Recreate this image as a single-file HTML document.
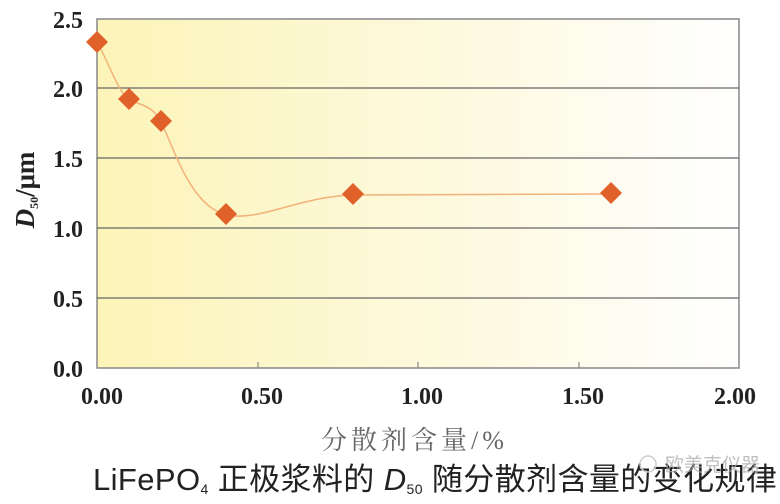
<!DOCTYPE html>
<html><head><meta charset="utf-8"><style>
html,body{margin:0;padding:0;background:#fff;width:780px;height:504px;overflow:hidden}
</style></head><body>
<svg width="780" height="504" viewBox="0 0 780 504" xmlns="http://www.w3.org/2000/svg">
<defs><linearGradient id="g" x1="0" x2="1" y1="0" y2="0">
<stop offset="0" stop-color="#fcf4b8"/><stop offset="0.55" stop-color="#fdf9de"/><stop offset="1" stop-color="#ffffff"/></linearGradient></defs>
<rect x="97" y="19" width="642" height="349" fill="url(#g)" stroke="#888" stroke-width="1.5"/>
<g stroke="#666" stroke-width="1.3">
<line x1="97" x2="739" y1="88" y2="88"/><line x1="97" x2="739" y1="158" y2="158"/>
<line x1="97" x2="739" y1="228" y2="228"/><line x1="97" x2="739" y1="298" y2="298"/>
</g>
<g stroke="#888" stroke-width="1.2">
<line x1="258" x2="258" y1="362" y2="368"/><line x1="418" x2="418" y1="362" y2="368"/><line x1="579" x2="579" y1="362" y2="368"/>
</g>
<path d="M97,42 C110,65 118,92 129,99 C140,106 152,104 161,122 C175,150 190,205 226,215 C260,222 300,196 354,195 L611,194" fill="none" stroke="#f2b27a" stroke-width="1.5"/>
<g fill="#e0622a">
<path d="M97,31 l11,11 l-11,11 l-11,-11z"/>
<path d="M129,88 l11,11 l-11,11 l-11,-11z"/>
<path d="M161,110 l11,11 l-11,11 l-11,-11z"/>
<path d="M226,203 l11,11 l-11,11 l-11,-11z"/>
<path d="M353,183 l11,11 l-11,11 l-11,-11z"/>
<path d="M611,182 l11,11 l-11,11 l-11,-11z"/>
</g>
<g font-family="Liberation Serif,serif" font-weight="bold" font-size="24" fill="#222" text-anchor="end">
<text x="83" y="28">2.5</text><text x="83" y="97">2.0</text><text x="83" y="167">1.5</text>
<text x="83" y="237">1.0</text><text x="83" y="307">0.5</text><text x="83" y="377">0.0</text>
</g>
<g font-family="Liberation Serif,serif" font-weight="bold" font-size="24" fill="#222" text-anchor="middle">
<text x="102" y="404">0.00</text><text x="262" y="404">0.50</text><text x="422" y="404">1.00</text>
<text x="583" y="404">1.50</text><text x="735" y="404">2.00</text>
</g>
<text transform="translate(34,190) rotate(-90)" text-anchor="middle" font-family="Liberation Serif,serif" font-weight="bold" font-size="27" fill="#222"><tspan font-style="italic">D</tspan><tspan font-size="12" dy="4">50</tspan><tspan dy="-4">/μm</tspan></text>
<text x="321" y="449" font-family="Liberation Serif,'Noto Serif CJK SC',serif" font-size="26" fill="#666" letter-spacing="4">分散剂含量/%</text>
<text x="93" y="490" font-family="Liberation Sans,'Noto Sans CJK SC',sans-serif" font-size="31" fill="#222" letter-spacing="0.4">LiFePO<tspan font-size="14" dy="4">4</tspan><tspan dy="-4"> 正极浆料的 </tspan><tspan font-style="italic">D</tspan><tspan font-size="14" dy="4">50</tspan><tspan dy="-4"> 随分散剂含量的变化规律</tspan></text>
<text x="665" y="471" font-family="Liberation Sans,'Noto Sans CJK SC',sans-serif" font-size="19" fill="#aaa" opacity="0.75">欧美克仪器</text>
<circle cx="648" cy="464" r="8" fill="none" stroke="#ccc" stroke-width="1.5"/>
</svg>
</body></html>
